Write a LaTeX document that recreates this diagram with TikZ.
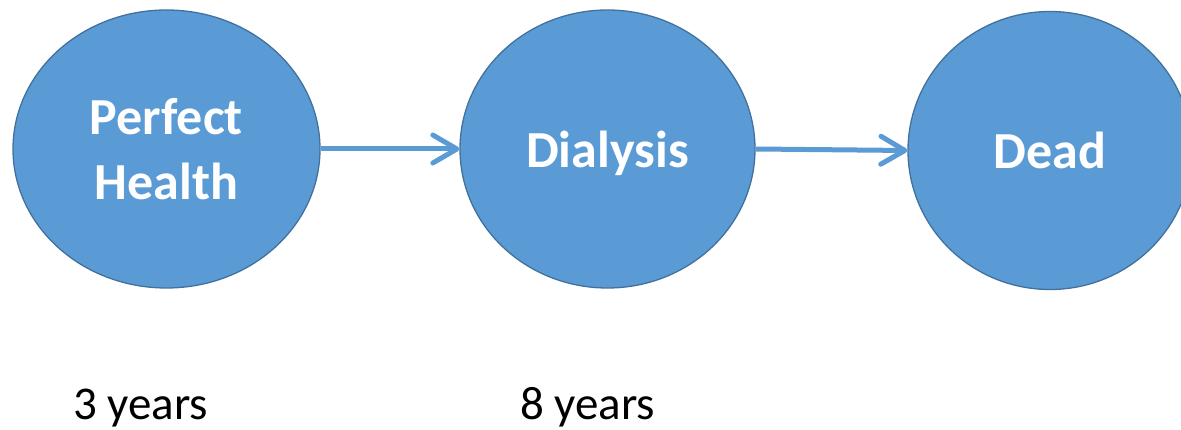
\documentclass[tikz,border=0pt]{standalone}
\usepackage{fontspec}
\setmainfont{Carlito}
\usetikzlibrary{shapes.geometric,arrows.meta}
\definecolor{stateblue}{HTML}{5B9BD5}
\definecolor{stateedge}{HTML}{41719C}
\tikzset{
  state/.style={ellipse, draw=stateedge, line width=1.3pt, fill=stateblue,
    inner sep=0pt, text=white, align=center, text depth=0pt,
    font=\fontsize{52}{65}\selectfont\bfseries},
  trans/.style={draw=stateblue, line width=5pt,
    -{Straight Barb[length=24pt,width=28pt,round]}},
  duration/.style={anchor=base west, inner sep=0pt,
    font=\fontsize{47}{56}\selectfont}
}
\begin{document}
\begin{tikzpicture}[x=1pt,y=-1pt]
  \useasboundingbox (0,0) rectangle (1181,430);
  \node[state, minimum width=307pt, minimum height=278pt] (ph) at (166.5,149) {Perfect\\Health};
  \node[state, minimum width=295pt, minimum height=278pt] (dia) at (607.5,149) {Dialysis};
  \node[state, minimum width=284pt, minimum height=278pt] (dead) at (1050,150.5) {Dead};
  \draw[trans] (ph.east) -- (dia.west);
  \draw[trans] (dia.east) -- (dead.west);
  \node[duration] (t1) at (73,419) {3 years};
  \node[duration] (t2) at (520,419) {8 years};
\end{tikzpicture}
\end{document}
